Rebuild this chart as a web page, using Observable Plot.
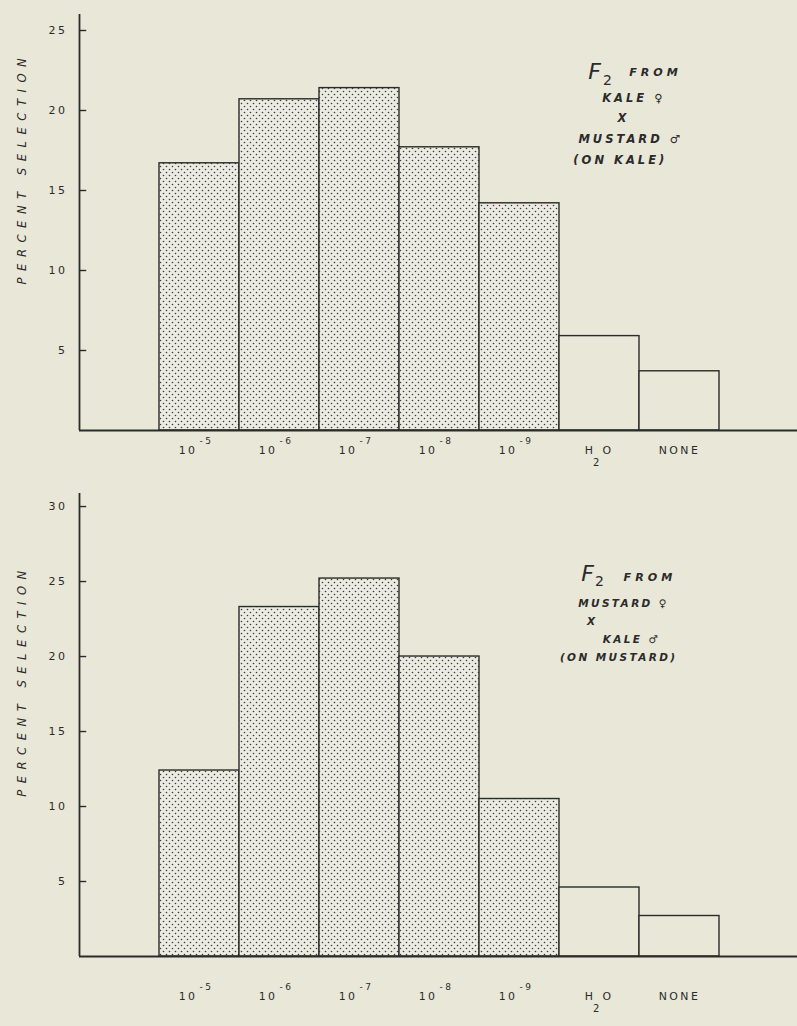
<!DOCTYPE html>
<html><head><meta charset="utf-8">
<script src="https://cdn.jsdelivr.net/npm/d3@7"></script>
<script src="https://cdn.jsdelivr.net/npm/@observablehq/plot@0.6"></script>
<style>
html,body{margin:0;padding:0;background:#e9e7d8;}
#c svg{display:block;}
svg g[font-size="11.5"] text{letter-spacing:3px;}
svg g[font-size="10.5"] text{letter-spacing:2.4px;}
svg g[font-size="11.1"] text{letter-spacing:4px;}
svg g[font-size="11.6"] text{letter-spacing:6.5px;}
svg g[font-size="10.9"] text, svg g[font-size="9"] text, svg g[font-size="10"] text{letter-spacing:2.5px;}
svg g[aria-label="y-axis tick label"] text{letter-spacing:2.5px;}
</style></head><body><div id="c"></div>
<script>
// ---- data ----
const doses = ["10-5","10-6","10-7","10-8","10-9","H2O","NONE"];
const labelMain = ["10","10","10","10","10","H","NONE"];
const labelSup  = ["-5","-6","-7","-8","-9","",""];
const labelSub  = ["","","","","","2",""];
const labelTail = ["","","","","","O",""];
const treated   = [true,true,true,true,true,false,false];
const kaleCross    = [16.7,20.7,21.4,17.7,14.2,5.9,3.7];
const mustardCross = [12.4,23.3,25.2,20.0,10.5,4.6,2.7];
const ticksTop    = [5,10,15,20,25];
const ticksBottom = [5,10,15,20,25,30];
const notesTop    = ["KALE ♀","X","MUSTARD ♂","(ON KALE)"];
const notesBottom = ["MUSTARD ♀","X","KALE ♂","(ON MUSTARD)"];
const yLabel = "PERCENT SELECTION";

const BG = "#e9e7d8", INK = "#2b2b2b";
const FONT = "DejaVu Sans, sans-serif";

function patternMark(id) {
  return () => {
    const defs = d3.create("svg:defs");
    const p = defs.append("pattern").attr("id", id).attr("width", 6).attr("height", 6)
      .attr("patternUnits", "userSpaceOnUse");
    p.append("rect").attr("width", 6).attr("height", 6).attr("fill", "#ecebe1");
    p.append("circle").attr("cx", 1.5).attr("cy", 1.5).attr("r", 0.8).attr("fill", "#3a3a3a");
    p.append("circle").attr("cx", 4.5).attr("cy", 4.5).attr("r", 0.8).attr("fill", "#3a3a3a");
    return defs.node();
  };
}

function chart(cfg) {
  const rows = doses.map((d, i) => ({
    i, dose: d, v: cfg.values[i], treated: treated[i],
    main: labelMain[i], sup: labelSup[i], sub: labelSub[i], tail: labelTail[i]
  }));
  const L = cfg.layout;
  const noteRows = cfg.notes.map((t, k) => ({t, x: L.notes[k][0], y: L.notes[k][1]}));
  const cx = d => d.i + 1.5;
  const lab = {y: 0, fontSize: 10.9, fill: INK};
  const g = cfg.labelGap;
  return Plot.plot({
    width: 797, height: cfg.height,
    marginTop: cfg.marginTop, marginBottom: cfg.marginBottom, marginLeft: 79, marginRight: 0,
    style: {background: BG, fontFamily: FONT, color: INK, overflow: "visible"},
    x: {domain: [0, 9], range: [79, 799], axis: null},
    y: {domain: [0, cfg.ymax]},
    marks: [
      patternMark(cfg.pid),
      Plot.rectY(rows.filter(d => d.treated), {x1: d => d.i + 1, x2: d => d.i + 2, y1: 0, y2: "v",
        fill: `url(#${cfg.pid})`, stroke: INK, strokeWidth: 1.4}),
      Plot.rectY(rows.filter(d => !d.treated), {x1: d => d.i + 1, x2: d => d.i + 2, y1: 0, y2: "v",
        fill: BG, stroke: INK, strokeWidth: 1.4}),
      Plot.ruleY([0], {x1: 0, x2: 9, stroke: INK, strokeWidth: 1.8}),
      Plot.ruleX([0], {y1: 0, y2: cfg.ymax, stroke: INK, strokeWidth: 1.8}),
      Plot.ruleY(cfg.ticks, {x1: 0, x2: 0.09, stroke: INK, strokeWidth: 1.4}),
      Plot.axisY({ticks: cfg.ticks, tickSize: 0, tickPadding: 12, fontSize: 11, tickFormat: d => String(d)}),
      // x category labels
      Plot.text(rows.filter(d => d.sup), {...lab, x: cx, text: "main", dy: g, dx: -2, textAnchor: "end"}),
      Plot.text(rows.filter(d => d.sup), {...lab, x: cx, text: "sup", dy: g - 9, dx: 0, textAnchor: "start", fontSize: 9}),
      Plot.text(rows.filter(d => d.tail), {...lab, x: cx, text: "main", dy: g, dx: -4, textAnchor: "end"}),
      Plot.text(rows.filter(d => d.sub), {...lab, x: cx, text: "sub", dy: g + 12, dx: -2, textAnchor: "middle", fontSize: 10}),
      Plot.text(rows.filter(d => d.tail), {...lab, x: cx, text: "tail", dy: g, dx: 3, textAnchor: "start"}),
      Plot.text(rows.filter(d => !d.sup && !d.tail), {...lab, x: cx, text: "main", dy: g, dx: 0, textAnchor: "middle"}),
      // y label
      Plot.text([yLabel], {x: () => L.ylab[0], y: () => L.ylab[1], rotate: -90, fontSize: 11.6,
        fontStyle: "italic", fill: INK}),
      // annotation
      Plot.text(["F"], {x: () => L.F[0], y: () => L.F[1], fontSize: 22, fontStyle: "italic", fill: INK}),
      Plot.text(["2"], {x: () => L.two[0], y: () => L.two[1], fontSize: 14, fill: INK}),
      Plot.text(["FROM"], {x: () => L.from[0], y: () => L.from[1], fontSize: 11.1, fontStyle: "italic",
        fontWeight: 600, fill: INK}),
      Plot.text(noteRows, {x: "x", y: "y", text: "t", fontSize: cfg.noteSize, fontStyle: "italic", fontWeight: 600,
        fill: INK})
    ]
  });
}

const chartTop = chart({
  values: kaleCross, ticks: ticksTop, height: 470, marginTop: 14, marginBottom: 40, ymax: 26,
  notes: notesTop, pid: "dotsA", noteSize: 11.5, labelGap: 20,
  layout: {ylab: [-0.71, 16.4], F: [6.44, 22.4], two: [6.6, 21.9], from: [7.2, 22.4],
    notes: [[6.93, 20.75], [6.8, 19.5], [6.89, 18.2], [6.76, 16.9]]}
});
const chartBottom = chart({
  values: mustardCross, ticks: ticksBottom, height: 556, marginTop: 23, marginBottom: 70, ymax: 30.87,
  notes: notesBottom, pid: "dotsB", noteSize: 10.5, labelGap: 40,
  layout: {ylab: [-0.71, 18.4], F: [6.35, 25.5], two: [6.5, 25.0], from: [7.13, 25.3],
    notes: [[6.8, 23.5], [6.41, 22.3], [6.9, 21.1], [6.74, 19.9]]}
});
document.getElementById("c").append(chartTop, chartBottom);
</script></body></html>
